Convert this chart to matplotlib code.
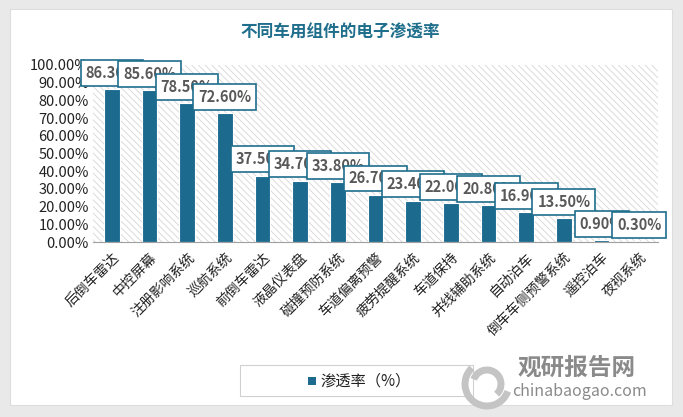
import numpy as np
import matplotlib.pyplot as plt
from matplotlib.patches import Rectangle, Arc

plt.rcParams['font.family'] = ['Noto Sans CJK SC', 'DejaVu Sans']
plt.rcParams['hatch.linewidth'] = 0.6

# данные
cats = ['后倒车雷达', '中控屏幕', '注册影响系统', '巡航系统', '前倒车雷达', '液晶仪表盘',
        '碰撞预防系统', '车道偏离预警', '疲劳提醒系统', '车道保持', '并线辅助系统',
        '自动泊车', '倒车车侧预警系统', '遥控泊车', '夜视系统']
vals = [86.3, 85.6, 78.5, 72.6, 37.5, 34.7, 33.8, 26.7, 23.4, 22.0, 20.8, 16.9, 13.5, 0.9, 0.3]
yticks = np.arange(0, 101, 10)

bar_c = '#1c6b8f'
edge_c = '#1f6e8c'

fig = plt.figure(figsize=(6.83, 4.17), dpi=100)
fig.patch.set_facecolor('#e9e9e9')
# белая карточка
fig.patches.append(Rectangle((10/683, 12/417), 662/683, 396/417, transform=fig.transFigure,
                             facecolor='white', edgecolor='#dddddd', lw=0.8, zorder=-5))

ax = fig.add_axes([93/683, 175/417, 565/683, 177/417])
ax.set_facecolor('none')
x = np.arange(len(cats))
# штриховка фона
ax.add_patch(Rectangle((-0.5, 0), len(cats), 100, facecolor='white', edgecolor='#d6d6d6',
                       lw=0, hatch='\\\\\\\\\\', zorder=0))
ax.bar(x, vals, width=0.42, color=bar_c, edgecolor='white', lw=0.8, zorder=2)

ax.set_xlim(-0.5, len(cats) - 0.5)
ax.set_ylim(0, 100)
ax.set_yticks(yticks)
ax.set_yticklabels(['{:.2f}%'.format(v) for v in yticks], fontsize=10.5, color='#222222')
ax.set_xticks(x)
ax.set_xticklabels(cats, rotation=45, ha='right', va='top', rotation_mode='anchor',
                   fontsize=10, color='#222222')
ax.tick_params(length=0, pad=3)
ax.tick_params(axis='x', pad=6)
for s in ['top', 'right', 'left']:
    ax.spines[s].set_visible(False)
ax.spines['bottom'].set_color('#a0a0a0')
ax.spines['bottom'].set_zorder(2.5)

for i, v in enumerate(vals):
    ax.annotate('{:.2f}%'.format(v), (i, v), xytext=(0, 6), textcoords='offset points',
                ha='center', va='bottom', fontsize=10.5, fontweight='bold', color='#595959',
                bbox=dict(boxstyle='square,pad=0.33', fc='white', ec=edge_c, lw=1.2),
                zorder=3 + i, annotation_clip=False)

fig.text(340/683, 1 - 33/417, '不同车用组件的电子渗透率', ha='center', va='center',
         fontsize=12, fontweight='bold', color='#1f6e8c')

# легенда
fig.patches.append(Rectangle((240/683, 1 - 396/417), 233/683, 31/417, transform=fig.transFigure,
                             facecolor='white', edgecolor='#d0d0d0', lw=0.8))
fig.patches.append(Rectangle((308/683, 1 - 385/417), 8/683, 8/417, transform=fig.transFigure,
                             facecolor=bar_c, edgecolor='none'))
fig.text(320/683, 1 - 381/417, '渗透率（%）', ha='left', va='center', fontsize=11, color='#222222')

# водяной знак
for r, a1, a2 in [(22, 120, 330), (14, 300, 150)]:
    fig.patches.append(Arc((487/683, 1 - 384/417), 2*r/683, 2*r/417, theta1=a1, theta2=a2,
                           transform=fig.transFigure, color='#c4c4c4', lw=5))
fig.text(518/683, 1 - 368/417, '观研报告网', ha='left', va='center', fontsize=17,
         fontweight='bold', color='#8a8a8a')
fig.text(512/683, 1 - 391/417, 'chinabaogao.com', ha='left', va='center', fontsize=11.5,
         color='#8a8a8a')

plt.savefig('out.png', dpi=100, facecolor=fig.get_facecolor())
